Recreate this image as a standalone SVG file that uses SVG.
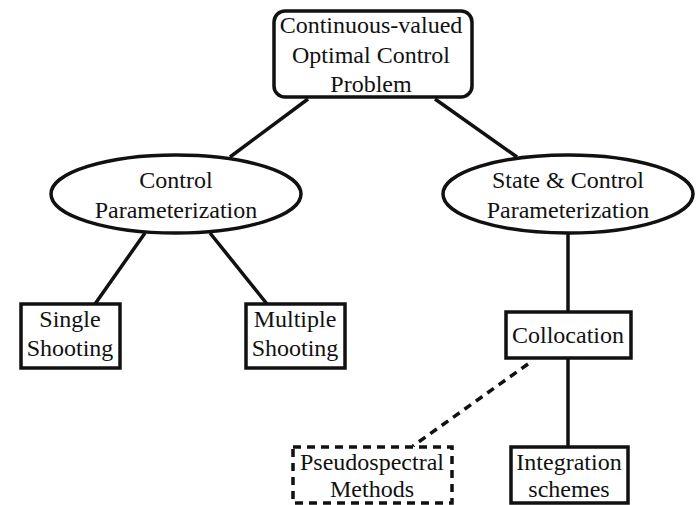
<svg xmlns="http://www.w3.org/2000/svg" width="696" height="505" viewBox="0 0 696 505">
<style>
text{font-family:"Liberation Serif","Times New Roman",serif;font-size:24px;fill:#111;text-anchor:middle}
.n{fill:#fff;stroke:#111;stroke-width:3.5}
.c{stroke:#111;stroke-width:3.5;fill:none}
.d{stroke-dasharray:8 6}
</style>
<rect width="696" height="505" fill="#fff"/>
<g id="connectors">
<line class="c" x1="308" y1="99" x2="230" y2="157"/>
<line class="c" x1="435" y1="99" x2="517" y2="157"/>
<line class="c" x1="145" y1="233" x2="95" y2="304"/>
<line class="c" x1="210" y1="233" x2="267" y2="304"/>
<line class="c" x1="568" y1="233" x2="568" y2="312"/>
<line class="c" x1="568" y1="358" x2="568" y2="447"/>
<line class="c d" x1="528" y1="364" x2="413" y2="446"/>
</g>
<g id="ocp">
<rect class="n" x="274" y="11" width="198" height="86" rx="11"/>
<text x="371" y="33">Continuous-valued</text>
<text x="371" y="63">Optimal Control</text>
<text x="371" y="92">Problem</text>
</g>
<g id="control-param">
<ellipse class="n" cx="176" cy="194" rx="125" ry="39"/>
<text x="176" y="188">Control</text>
<text x="176" y="218">Parameterization</text>
</g>
<g id="state-control-param">
<ellipse class="n" cx="568" cy="194" rx="125" ry="39"/>
<text x="568" y="188">State &amp; Control</text>
<text x="568" y="218">Parameterization</text>
</g>
<g id="single">
<rect class="n" x="21" y="304" width="99" height="64"/>
<text x="70" y="327">Single</text>
<text x="70" y="356">Shooting</text>
</g>
<g id="multiple">
<rect class="n" x="246" y="304" width="99" height="64"/>
<text x="295" y="327">Multiple</text>
<text x="295" y="356">Shooting</text>
</g>
<g id="collocation">
<rect class="n" x="506" y="312" width="125" height="46"/>
<text x="568" y="343">Collocation</text>
</g>
<g id="pseudospectral">
<rect class="n d" x="293" y="447" width="159" height="56"/>
<text x="372" y="470">Pseudospectral</text>
<text x="372" y="497">Methods</text>
</g>
<g id="integration">
<rect class="n" x="511" y="447" width="117" height="56"/>
<text x="569" y="470">Integration</text>
<text x="569" y="497">schemes</text>
</g>
</svg>
